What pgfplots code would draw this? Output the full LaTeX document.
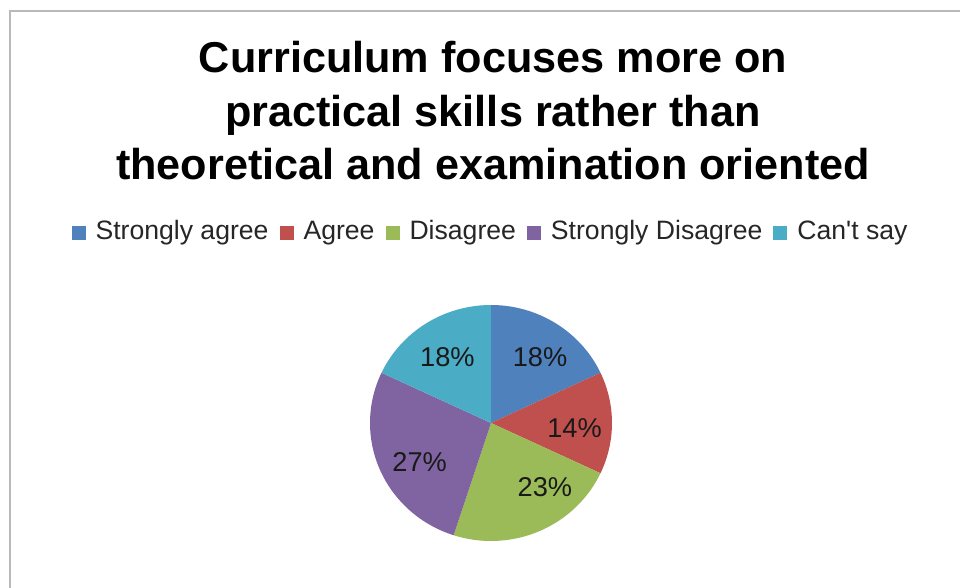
\documentclass[border=0pt]{standalone}
\usepackage{fontspec}
\setmainfont{Liberation Sans}
\usepackage{pgfplots}
\pgfplotsset{compat=1.18}

\definecolor{sagree}{HTML}{4F81BD}
\definecolor{agree}{HTML}{C0504D}
\definecolor{disagree}{HTML}{9BBB59}
\definecolor{sdisagree}{HTML}{8064A2}
\definecolor{cantsay}{HTML}{4BACC6}

% slice from cumulative percent #1 to #2, clockwise from 12 o'clock
\newcommand{\slice}[3]{%
  \addplot[fill=#3, draw=none, domain={90-3.6*(#2)}:{90-3.6*(#1)}, samples=60]
    ({cos(x)},{sin(x)}) -- (0,0) -- cycle;}

\begin{document}
\begin{tikzpicture}
\useasboundingbox (0,0) rectangle (480pt,-294pt);
\draw[gray!55, line width=1pt] (5pt,-300pt) -- (5pt,-5.5pt) -- (485pt,-5.5pt);

\node[font=\fontsize{21.6}{26}\selectfont\bfseries, anchor=base] at (246.5pt,-36.5pt) {Curriculum focuses more on};
\node[font=\fontsize{21.6}{26}\selectfont\bfseries, anchor=base] at (246.5pt,-63.3pt) {practical skills rather than};
\node[font=\fontsize{21.6}{26}\selectfont\bfseries, anchor=base] at (246.5pt,-90pt) {theoretical and examination oriented};

\begin{axis}[
  at={(245.5pt,-211.5pt)}, anchor=center,
  scale only axis, width=145.2pt, height=141.6pt,
  xmin=-1.2, xmax=1.2, ymin=-1.2, ymax=1.2,
  hide axis, clip=false,
  legend columns=5,
  legend image code/.code={\fill[#1] (0pt,-3.5pt) rectangle (7pt,3.5pt);},
  legend style={draw=none, fill=none, at={(0.5,1.17)}, anchor=center,
    font=\fontsize{13.3}{15}\selectfont, text=black!85,
    /tikz/every odd column/.append style={column sep=3.5pt},
    /tikz/every even column/.append style={column sep=4pt},
    nodes={inner sep=1.5pt, text depth=3pt, text height=9.5pt}},
]
\slice{0}{18}{sagree}      \addlegendentry{Strongly agree}
\slice{18}{32}{agree}      \addlegendentry{Agree}
\slice{32}{55}{disagree}   \addlegendentry{Disagree}
\slice{55}{82}{sdisagree}  \addlegendentry{Strongly Disagree}
\slice{82}{100}{cantsay}   \addlegendentry{Can\textquotesingle t say}

\begin{scope}[font=\fontsize{13.6}{15}\selectfont, text=black!90]
\node at (axis cs:0.405,0.56) {18\%};
\node at (axis cs:0.69,-0.04) {14\%};
\node at (axis cs:0.446,-0.54) {23\%};
\node at (axis cs:-0.59,-0.33) {27\%};
\node at (axis cs:-0.36,0.56) {18\%};
\end{scope}
\end{axis}
\end{tikzpicture}
\end{document}
